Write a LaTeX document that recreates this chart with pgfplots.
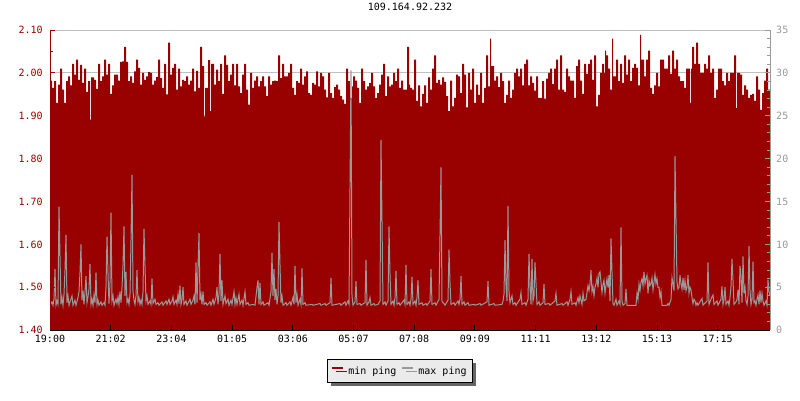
\documentclass[border=0pt]{standalone}
\usepackage{pgfplots}
\pgfplotsset{compat=1.18}
\usepackage{fontspec}
\setmainfont{DejaVu Sans Mono}
\usetikzlibrary{shadows}
\definecolor{minred}{HTML}{990000}
\definecolor{maxgray}{HTML}{999999}
\definecolor{gridgray}{HTML}{C0C0C0}
\definecolor{leggray}{HTML}{EBEBEB}
\pgfplotsset{
  layers/mylayers/.define layer set={
    axis background,axis grid,pre main,main,axis ticks,axis lines,axis tick labels,axis descriptions,axis foreground
  }{
    grid style={/pgfplots/on layer=axis grid},
    tick style={/pgfplots/on layer=axis ticks},
    axis line style={/pgfplots/on layer=axis lines},
    label style={/pgfplots/on layer=axis descriptions},
    legend style={/pgfplots/on layer=axis descriptions},
    title style={/pgfplots/on layer=axis descriptions},
    ticklabel style={/pgfplots/on layer=axis tick labels},
    axis background@ style={/pgfplots/on layer=axis background},
  },
  common/.style={
    set layers=mylayers,
    at={(50pt,70pt)}, anchor=south west,
    scale only axis, width=720pt, height=300pt,
    xmin=0, xmax=720,
    tick align=inside, major tick length=5pt, minor tick length=3pt,
    tick label style={font=\fontsize{10}{12}\selectfont},
    /pgf/number format/assume math mode=true,
  },
}
\begin{document}
\begin{tikzpicture}
\path (0,0) rectangle (800pt,400pt);
\begin{axis}[common,
  ymin=1.40, ymax=2.10,
  axis x line*=bottom, axis y line*=left,
  x axis line style={black,-,line width=1pt},
  y axis line style={minred,-,line width=1pt},
  xtick={0,60.7,121.4,182.1,242.8,303.5,364.2,424.9,485.6,546.3,607,667.7},
  xticklabels={19:00,21:02,23:04,01:05,03:06,05:07,07:08,09:09,11:11,13:12,15:13,17:15},
  x tick style={black,line width=1pt},
  ytick={1.40,1.50,1.60,1.70,1.80,1.90,2.00,2.10},
  minor y tick num=1,
  y tick style={minred,line width=1pt},
  yticklabel style={minred,xshift=-3.7pt,/pgf/number format/.cd,fixed,fixed zerofill,precision=2},
  xticklabel style={black,yshift=-1.5pt},
  ymajorgrids, major grid style={gridgray,line width=1pt},
]
\addplot[const plot, fill=minred, draw=none] coordinates {
(0,1.982)(2,1.965)(4,1.981)(6,1.930)(8,1.973)(10,2.010)(12,1.961)(14,1.930)(16,1.981)(18,1.992)(20,1.971)(22,2.021)(24,1.996)(26,2.031)(28,1.984)(30,2.019)(32,1.977)(34,2.010)(36,1.956)(38,1.981)(40,1.891)(41,1.990)(44,1.984)(46,1.963)(48,2.021)(50,1.981)(52,1.992)(54,2.031)(56,1.996)(58,2.021)(60,1.951)(62,1.971)(64,1.996)(66,1.996)(68,1.982)(70,2.026)(72,2.027)(74,2.061)(76,2.026)(78,1.981)(80,1.992)(82,1.977)(84,2.004)(86,2.031)(88,2.012)(90,1.973)(92,2.000)(94,1.984)(96,1.992)(98,2.002)(100,2.000)(102,1.973)(104,1.982)(106,1.991)(108,2.031)(110,1.988)(112,1.965)(114,2.021)(116,1.950)(118,2.071)(120,1.996)(122,2.012)(124,2.021)(126,1.961)(128,2.010)(130,1.969)(132,1.984)(134,1.981)(136,1.992)(138,1.973)(140,1.982)(142,2.010)(144,1.957)(146,2.005)(148,1.965)(150,2.061)(152,2.016)(154,1.899)(155,1.965)(158,2.030)(160,1.911)(161,2.021)(164,1.973)(166,2.008)(168,1.981)(170,2.021)(172,1.951)(174,2.041)(176,2.019)(178,1.981)
(180,1.996)(182,2.021)(184,1.971)(186,2.021)(188,1.969)(190,1.953)(192,1.996)(194,2.021)(196,1.961)(198,1.926)(200,2.000)(202,1.965)(204,1.982)(206,1.992)(208,1.969)(210,1.981)(212,1.992)(214,1.969)(216,1.946)(218,1.992)(220,1.973)(222,1.981)(224,1.982)(226,1.981)(228,2.041)(230,1.988)(232,2.021)(234,1.992)(236,1.992)(238,2.000)(240,2.021)(242,1.965)(244,1.949)(246,1.981)(248,1.977)(250,2.010)(252,1.973)(254,1.992)(256,2.004)(258,1.953)(260,1.949)(262,1.977)(264,1.973)(266,2.004)(268,1.969)(270,2.000)(272,1.992)(274,1.961)(276,1.943)(278,2.000)(280,1.953)(282,1.942)(284,1.967)(286,1.973)(288,1.961)(290,1.946)(292,1.938)(294,1.928)(296,2.010)(298,1.981)(300,1.942)(302,1.969)(303,1.992)(305,1.982)(307,1.965)(309,1.930)(311,2.010)(313,1.981)(315,1.961)(317,1.969)(319,1.977)(321,2.000)(323,1.969)(325,1.942)(327,1.953)(329,1.973)(331,1.996)(333,2.021)(335,1.946)(337,1.992)(339,1.969)(341,1.973)(343,2.000)(345,1.981)(347,2.010)(349,1.965)(351,1.982)(353,1.961)(355,1.961)(357,2.061)(359,1.973)
(360,1.965)(362,1.961)(364,2.031)(366,1.935)(368,1.971)(370,1.922)(372,1.951)(374,1.971)(376,1.930)(378,1.990)(380,1.961)(382,2.010)(384,2.041)(386,1.977)(388,1.984)(390,1.973)(392,1.990)(394,1.979)(396,1.946)(398,1.911)(400,1.982)(402,1.922)(404,1.942)(406,1.996)(408,1.992)(410,1.953)(412,2.021)(414,1.996)(416,1.920)(418,2.000)(420,1.961)(422,2.010)(424,1.930)(426,1.973)(428,1.949)(430,2.000)(432,1.930)(434,1.965)(436,2.041)(438,1.969)(440,2.080)(441,2.016)(444,1.982)(446,1.992)(448,1.967)(450,2.000)(452,1.981)(454,1.930)(456,1.949)(458,1.982)(460,1.942)(462,1.961)(464,2.000)(466,2.010)(468,1.992)(470,2.010)(472,1.971)(474,2.021)(476,2.031)(478,1.971)(480,1.992)(482,1.977)(484,1.959)(486,1.992)(488,1.942)(490,1.942)(492,1.981)(494,1.940)(496,1.987)(498,2.000)(500,2.010)(502,1.974)(504,2.010)(506,2.031)(508,1.961)(510,2.041)(512,1.961)(514,1.956)(516,2.010)(518,1.992)(520,1.982)(522,1.982)(524,1.942)(526,2.016)(528,2.031)(530,1.982)(532,1.951)(534,2.021)(536,1.998)(538,2.021)
(540,2.031)(542,1.984)(544,2.041)(546,1.922)(548,1.949)(550,2.000)(552,2.021)(554,2.000)(555,2.052)(556,2.041)(558,2.010)(560,1.961)(562,2.080)(563,1.992)(566,2.031)(568,1.981)(570,2.021)(572,1.977)(574,2.041)(576,1.996)(578,2.031)(580,1.981)(582,2.012)(584,2.021)(586,2.012)(588,1.971)(590,2.089)(591,2.031)(594,1.992)(596,2.031)(598,2.052)(600,1.965)(602,1.951)(604,1.971)(606,2.000)(608,1.969)(610,2.031)(612,2.031)(614,2.010)(616,2.010)(618,2.041)(620,1.998)(622,2.052)(624,2.010)(626,2.031)(628,1.992)(630,1.981)(632,1.981)(634,1.965)(636,2.010)(638,2.010)(640,1.930)(641,2.010)(642,2.061)(644,2.021)(646,2.071)(648,2.021)(650,2.000)(652,2.000)(654,2.021)(656,2.010)(658,2.041)(660,2.000)(662,2.010)(664,1.942)(666,1.961)(668,2.010)(670,2.010)(672,1.981)(674,1.971)(676,2.000)(678,1.981)(680,2.000)(682,2.000)(684,2.041)(686,1.918)(687,2.000)(690,1.996)(692,1.949)(694,1.971)(696,1.961)(698,1.942)(700,1.949)(702,1.951)(704,1.935)(706,1.992)(708,1.961)(710,1.914)(712,1.953)(714,1.982)(716,2.010)(718,1.961)(720,1.961)
} \closedcycle;
\end{axis}
\begin{axis}[common,
  ymin=0, ymax=35,
  axis x line=none, axis y line*=right,
  y axis line style={maxgray,-,line width=1pt},
  ytick={0,5,10,15,20,25,30,35},
  minor y tick num=4,
  y tick style={maxgray,line width=1pt},
  yticklabel style={maxgray,xshift=2.7pt},
  title={109.164.92.232},
  title style={at={(0.5,1)}, anchor=center, yshift=17pt, font=\fontsize{10}{12}\selectfont},
  legend columns=-1,
  legend style={at={(0.486,-0.137)}, anchor=center, draw=black, line width=1pt, fill=leggray,
    font=\fontsize{10}{12}\selectfont, inner xsep=4pt, inner ysep=5pt,
    drop shadow={shadow xshift=3.5pt, shadow yshift=-3.5pt, fill=black!60, opacity=1},
    /tikz/every odd column/.append style={column sep=2pt},
    /tikz/every even column/.append style={column sep=3pt}},
  legend image code/.code={\draw[#1, line width=2pt] (0pt,0.3em) -- (11pt,0.3em);},
]
\addlegendimage{minred}
\addlegendentry{min ping}
\addplot[maxgray, line width=1pt, sharp plot] coordinates {
(0,2.9)(2,3.3)(3,2.9)(4,3.6)(5,7.1)(6,2.9)(7,3.4)(8,3.0)(9,14.4)(10,8.6)(11,3.0)(12,3.8)(13,2.9)(14,4.2)(15,7.0)(16,11.1)(17,3.2)(18,4.0)(19,2.9)(20,3.3)(22,4.0)(23,2.9)(25,3.5)(26,2.9)(28,3.8)(29,4.5)(30,6.7)(31,10.0)(32,3.5)(33,4.6)(34,3.0)(35,4.4)(36,6.3)(37,3.2)(38,3.9)(39,4.8)(40,7.7)(41,3.0)(42,3.6)(43,2.9)(44,4.1)(45,3.2)(46,6.7)(47,3.0)(48,3.5)(49,2.9)(51,3.3)(52,2.9)(54,3.2)(55,2.9)(56,5.0)(57,10.9)(58,6.6)(59,3.1)(60,5.5)(61,13.7)(62,3.4)(63,4.0)(64,2.9)(66,3.6)(67,3.1)(68,3.9)(69,3.0)(70,4.5)(71,3.2)(72,5.0)(73,7.5)(74,12.1)(75,4.0)(76,6.8)(77,3.2)(78,3.6)(79,3.0)(80,4.2)(81,10.5)(82,18.1)(83,4.5)(84,3.5)(85,3.0)(86,4.0)(87,7.0)(88,3.3)(89,3.8)(90,3.0)(91,3.5)(92,3.0)(93,4.5)(94,11.8)(95,7.5)(96,3.4)(97,4.0)(98,3.0)(100,3.4)(101,3.0)(102,6.0)(103,3.1)(105,3.6)(106,3.0)(108,3.2)(109,2.9)(112,3.3)(113,2.9)(116,3.4)(117,3.0)(119,3.6)(120,3.0)(122,3.4)(123,3.9)(124,3.0)(126,3.5)(127,3.0)(128,4.2)(129,3.1)(130,5.2)(131,3.0)(132,3.6)(133,5.0)(134,3.0)(136,3.4)(137,2.9)(140,3.6)(141,3.0)(143,3.5)(144,4.0)(145,3.0)(146,7.9)(147,3.2)(148,7.3)(149,11.3)(150,3.5)(151,4.2)(152,3.0)(153,4.5)(154,3.0)(156,3.2)(157,2.9)(160,3.3)(161,2.9)(163,3.6)(164,3.0)(166,3.8)(167,5.0)(168,3.0)(169,4.2)(170,8.9)(171,3.4)(172,5.8)(173,3.0)(175,4.0)(176,3.1)(178,3.6)(179,2.9)(181,3.5)(182,3.0)(184,4.5)(185,3.0)(186,3.8)(187,3.0)(189,4.2)(190,3.0)(192,3.5)(193,2.9)(195,4.5)(196,3.0)(198,3.2)(199,2.9)(203,3.0)(205,2.9)(207,5.0)(208,5.8)(209,3.0)(210,5.5)(211,3.0)(213,3.3)(214,2.9)(218,3.2)(219,2.9)(221,4.5)(222,9.0)(223,4.0)(224,7.1)(225,3.5)(226,4.8)(227,3.0)(228,4.0)(229,12.6)(230,7.6)(231,3.2)(232,4.0)(233,2.9)(236,3.2)(237,2.9)(240,3.3)(241,2.9)(243,3.8)(244,3.0)(245,7.5)(246,3.2)(247,4.2)(248,2.9)(250,3.6)(251,3.0)(252,7.2)(253,3.0)(255,3.2)(256,2.9)(262,3.0)(263,2.9)(270,3.1)(271,2.9)(275,3.1)(276,2.9)(280,3.2)(281,6.1)(282,2.9)(290,3.1)(291,2.9)(295,3.3)(296,2.9)(298,3.4)(299,3.0)(300,16.6)(301,30.3)(302,4.0)(303,2.9)(305,3.3)(306,5.7)(307,3.0)(310,3.1)(311,2.9)(315,3.2)(316,8.2)(317,2.9)(319,3.3)(320,3.8)(321,2.9)(324,3.1)(325,2.9)(328,3.0)(330,3.4)(331,22.2)(332,12.7)(333,3.0)(335,3.3)(336,2.9)(338,3.4)(339,12.1)(340,6.5)(341,3.0)(343,3.4)(344,2.9)(345,3.8)(346,6.9)(347,3.0)(349,3.2)(350,2.9)(354,3.5)(355,3.0)(356,7.6)(357,3.0)(359,3.3)(360,2.9)(361,3.6)(362,6.2)(363,3.0)(365,3.4)(366,2.9)(367,3.8)(368,5.8)(369,3.0)(372,3.2)(373,2.9)(376,3.1)(377,2.9)(380,3.4)(381,7.1)(382,3.0)(385,3.2)(386,2.9)(389,3.6)(390,11.0)(391,19.0)(392,3.3)(394,3.1)(395,2.9)(398,3.5)(399,9.4)(400,5.5)(401,3.0)(404,3.2)(405,2.9)(408,3.4)(409,3.0)(410,3.6)(411,6.3)(412,3.0)(414,3.3)(415,2.9)(418,3.2)(419,2.9)(424,3.0)(425,2.9)(430,3.1)(431,2.9)(437,3.3)(438,5.7)(439,2.9)(444,3.1)(445,2.9)(452,3.0)(453,3.4)(454,4.2)(455,10.5)(456,5.2)(457,3.4)(458,14.5)(459,4.5)(460,3.2)(461,3.6)(462,4.0)(463,3.0)(465,3.2)(466,2.9)(470,3.6)(471,4.4)(472,3.0)(475,3.2)(476,2.9)(478,3.6)(479,8.9)(480,5.0)(481,3.0)(482,8.3)(483,3.4)(484,4.0)(485,7.9)(486,5.5)(487,3.0)(489,3.3)(490,2.9)(493,3.2)(494,5.4)(495,3.0)(499,3.1)(500,2.9)(505,3.4)(506,4.3)(507,2.9)(512,3.1)(513,2.9)(517,3.3)(518,2.9)(520,3.6)(521,4.5)(522,3.0)(525,3.2)(526,2.9)(528,3.8)(529,3.2)(530,4.0)(532,3.0)(533,4.3)(534,3.4)(536,3.6)(537,4.4)(538,5.2)(539,4.6)(540,5.4)(541,7.0)(542,4.5)(543,5.1)(544,4.0)(545,5.0)(546,5.4)(547,6.1)(548,5.0)(549,6.6)(550,6.8)(551,5.6)(552,4.4)(553,5.3)(554,5.8)(555,4.3)(556,5.2)(557,6.0)(558,5.0)(559,6.4)(560,3.4)(561,10.7)(562,6.8)(563,3.1)(564,2.9)(566,3.6)(567,2.9)(569,3.4)(570,3.0)(571,12.0)(572,3.4)(573,2.9)(575,3.1)(576,4.8)(577,2.9)(586,2.9)(587,4.3)(588,3.6)(589,5.4)(590,4.6)(591,5.6)(592,6.0)(593,5.2)(594,6.8)(595,5.4)(596,6.0)(597,6.4)(598,4.3)(599,5.8)(600,5.2)(601,5.4)(602,6.1)(603,4.7)(604,5.6)(605,6.5)(606,5.4)(607,6.0)(608,5.0)(609,5.0)(610,3.8)(611,4.5)(612,2.9)(617,2.9)(618,3.1)(619,2.9)(621,3.6)(622,6.1)(623,5.4)(624,4.6)(625,20.3)(626,12.9)(627,5.6)(628,4.8)(629,5.0)(630,6.4)(631,5.4)(632,4.8)(633,6.1)(634,4.7)(635,5.8)(636,4.6)(637,5.0)(638,6.4)(639,4.3)(640,5.0)(641,4.7)(642,3.8)(643,3.1)(644,3.6)(645,3.4)(646,2.9)(647,3.2)(648,2.9)(652,3.7)(653,2.9)(657,3.4)(658,7.9)(659,3.0)(662,3.9)(663,4.1)(664,3.0)(667,3.4)(668,2.9)(671,3.6)(672,5.1)(673,3.0)(674,3.6)(675,5.0)(676,3.0)(678,3.4)(679,2.9)(680,3.8)(681,5.1)(682,8.3)(683,5.8)(684,3.0)(686,3.3)(687,3.6)(688,4.7)(689,3.0)(690,7.5)(691,6.2)(692,3.2)(693,8.6)(694,4.3)(695,5.0)(696,3.4)(697,3.0)(698,4.0)(699,9.8)(700,4.6)(701,3.0)(702,3.6)(703,8.0)(704,3.2)(705,3.4)(706,2.9)(707,3.6)(708,4.1)(709,3.0)(710,4.6)(711,3.2)(712,4.3)(713,3.4)(714,2.9)(716,3.4)(717,2.9)(718,5.9)(719,4.5)(720,4.0)
};
\addlegendentry{max ping\hspace{18pt}}
\end{axis}
\end{tikzpicture}
\end{document}
